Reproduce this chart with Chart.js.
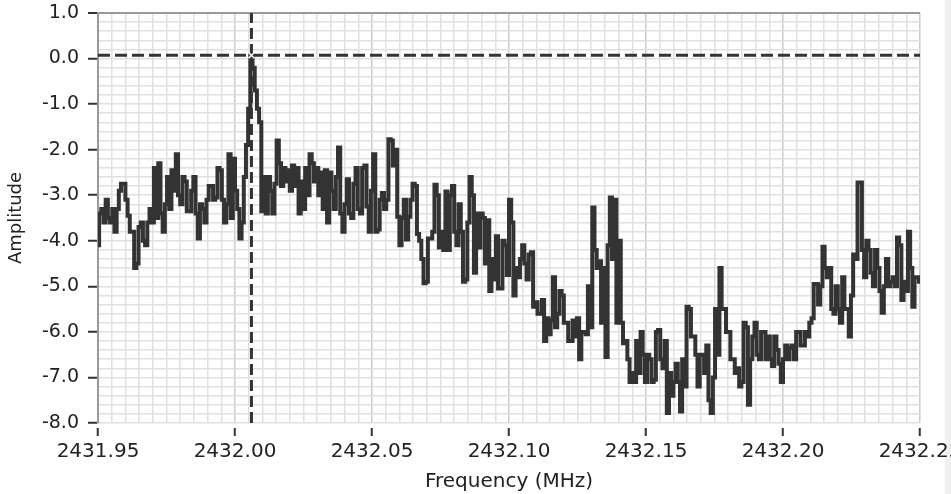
<!DOCTYPE html>
<html>
<head>
<meta charset="utf-8">
<title>Amplitude vs Frequency</title>
<script src="https://cdn.jsdelivr.net/npm/chart.js@4.4.1/dist/chart.umd.min.js"></script>
<style>
    html, body { margin: 0; padding: 0; background: #ffffff; }
    #spectrum { display: block; }
</style>
</head>
<body>
<canvas id="spectrum" width="951" height="494"></canvas>
<script>
// Frequency axis (MHz): uniform sampling grid
const freqStart = 2431.95;
const freqStep = 0.0008;
const xMin = 2431.95;
const xMax = 2432.25;
const xMajorStep = 0.05;
const xMinorStep = 0.005;

// Amplitude axis
const yMin = -8;
const yMax = 1;
const yMinorStep = 0.2;

// Cursor (crosshair) position
const cursorFreq = 2432.006;
const cursorAmp = 0.07;

// Amplitude, one value per frequency sample
const amplitude = [
    -4.1, -3.4, -3.3, -3.6, -3.1, -3.5, -3.6, -3.3, -3.8, -3.3,
    -2.9, -2.75, -2.75, -3.1, -3.45, -3.8, -3.8, -4.6, -4.5, -3.7,
    -3.6, -4.0, -4.1, -3.6, -3.3, -3.6, -2.4, -3.5, -2.3, -3.4,
    -3.8, -3.2, -2.6, -3.3, -2.45, -2.9, -2.1, -3.0, -3.2, -2.6,
    -2.7, -3.35, -3.35, -2.9, -2.6, -3.4, -3.95, -3.2, -3.3, -3.6,
    -3.1, -2.8, -2.8, -3.1, -3.05, -2.4, -2.45, -3.1, -3.6, -3.2,
    -2.1, -3.5, -2.2, -2.9, -3.3, -3.95, -3.6, -2.6, -1.9, -1.1,
    0.07, -0.2, -0.7, -1.1, -1.4, -3.35, -2.6, -3.4, -2.6, -2.9,
    -3.4, -2.75, -1.8, -2.3, -2.8, -2.4, -2.7, -2.45, -2.9, -2.35,
    -2.8, -2.4, -3.4, -2.7, -3.3, -2.4, -3.0, -2.1, -2.3, -2.7,
    -2.4, -3.0, -2.5, -3.3, -2.45, -3.6, -2.5, -2.9, -3.3, -2.6,
    -1.95, -3.4, -3.8, -3.2, -2.65, -3.4, -3.5, -2.75, -2.4, -3.3,
    -3.4, -2.4, -2.35, -3.25, -3.8, -2.9, -2.1, -3.8, -3.75, -3.1,
    -2.95, -3.3, -3.1, -1.77, -1.8, -2.35, -2.0, -3.47, -4.1, -3.5,
    -3.1, -3.97, -3.47, -3.1, -2.75, -2.8, -3.85, -4.0, -4.4, -4.93,
    -4.9, -3.95, -3.95, -3.8, -2.77, -3.0, -4.15, -3.8, -4.2, -2.92,
    -4.2, -3.0, -2.8, -3.8, -4.1, -3.2, -3.8, -4.9, -4.85, -3.6,
    -2.6, -3.0, -4.7, -3.4, -4.15, -3.4, -3.5, -4.5, -3.55, -5.1,
    -4.4, -4.85, -3.9, -5.05, -5.05, -4.0, -4.1, -4.75, -3.1, -3.6,
    -5.2, -4.6, -4.8, -4.4, -4.1, -4.5, -4.85, -4.3, -4.25, -5.45,
    -5.35, -5.6, -5.6, -5.3, -6.2, -5.7, -6.05, -5.75, -4.8, -5.9,
    -5.6, -5.1, -5.2, -5.8, -5.8, -6.2, -6.2, -5.75, -6.1, -5.7,
    -6.6, -6.0, -6.0, -6.05, -5.0, -5.9, -3.27, -4.2, -4.6, -4.45,
    -5.8, -4.6, -6.55, -4.1, -3.05, -4.4, -3.1, -5.8, -4.0, -5.8,
    -6.25, -6.2, -6.6, -7.1, -6.9, -7.1, -6.2, -6.9, -6.0, -6.5,
    -7.1, -6.5, -6.6, -7.1, -7.05, -6.0, -5.96, -6.6, -6.8, -6.2,
    -7.78, -6.9, -7.4, -7.1, -6.7, -7.1, -7.75, -6.6, -7.2, -5.45,
    -5.5, -6.1, -6.1, -6.5, -7.2, -6.5, -6.5, -6.9, -6.3, -7.5,
    -7.78, -7.0, -5.5, -6.5, -4.6, -5.5, -5.5, -6.0, -6.0, -6.6,
    -6.6, -6.9, -6.8, -7.2, -7.1, -5.8, -5.9, -7.6, -6.6, -6.1,
    -5.8, -6.5, -6.6, -6.0, -6.0, -6.6, -6.1, -6.6, -6.75, -6.1,
    -6.4, -6.7, -7.1, -6.6, -6.3, -6.6, -6.35, -6.3, -6.6, -6.0,
    -6.0, -6.3, -6.3, -6.0, -6.1, -5.8, -5.7, -4.95, -4.95, -5.4,
    -5.0, -4.13, -4.6, -4.8, -4.6, -5.5, -5.6, -5.0, -5.5, -5.8,
    -4.8, -5.5, -5.5, -6.1, -5.2, -4.3, -4.4, -2.72, -2.72, -4.2,
    -4.8, -4.0, -4.2, -4.7, -5.0, -4.2, -4.6, -5.1, -5.58, -5.0,
    -4.4, -5.0, -4.9, -4.8, -5.0, -3.93, -4.1, -5.3, -4.9, -5.1,
    -3.8, -4.6, -5.45, -4.8, -4.8, -4.9
];

const frequencies = amplitude.map((v, i) => freqStart + i * freqStep);

function onStep(value, step) {
    const r = value / step;
    return Math.abs(r - Math.round(r)) < 1e-4;
}

function tickValue(c) {
    return c && c.tick ? c.tick.value : NaN;
}

// light grey strip on the right edge of the panel
const sideStrip = {
    id: "sideStrip",
    beforeDraw(chart) {
        const c = chart.ctx;
        c.save();
        c.fillStyle = "#f1f1f1";
        c.fillRect(chart.width - 6, 0, 6, chart.height);
        c.restore();
    },
};

Chart.defaults.font.family = "'DejaVu Sans', Verdana, sans-serif";
Chart.defaults.color = "#222222";

if (document.getElementById("spectrum")) {
    const ctx = document.getElementById("spectrum");

    new Chart(ctx, {
        type: "line",
        data: {
            datasets: [
                {
                    label: "Spectrum",
                    data: frequencies.map((f, i) => ({ x: f, y: amplitude[i] })),
                    borderColor: "#333333",
                    borderWidth: 4,
                    stepped: "middle",
                    pointRadius: 0,
                    order: 2,
                },
                {
                    label: "Cursor X",
                    data: [
                        { x: cursorFreq, y: yMin },
                        { x: cursorFreq, y: yMax },
                    ],
                    borderColor: "#333333",
                    borderWidth: 3,
                    borderDash: [11, 5],
                    pointRadius: 0,
                    order: 1,
                },
                {
                    label: "Cursor Y",
                    data: [
                        { x: xMin, y: cursorAmp },
                        { x: xMax, y: cursorAmp },
                    ],
                    borderColor: "#333333",
                    borderWidth: 3,
                    borderDash: [12, 5],
                    pointRadius: 0,
                    order: 1,
                },
                {
                    label: "Cursor point",
                    data: [{ x: cursorFreq, y: cursorAmp }],
                    showLine: false,
                    pointStyle: "crossRot",
                    pointRadius: 4,
                    pointBorderColor: "#ffffff",
                    pointBorderWidth: 1.5,
                    order: 0,
                },
            ],
        },
        options: {
            responsive: false,
            animation: false,
            layout: {
                padding: { left: 0, right: 31, top: 13, bottom: 0 },
            },
            plugins: {
                legend: { display: false },
                tooltip: { enabled: false },
            },
            scales: {
                x: {
                    type: "linear",
                    min: xMin,
                    max: xMax,
                    afterFit: (scale) => {
                        scale.height = 71;
                        scale.paddingLeft = 0;
                        scale.paddingRight = 0;
                    },
                    border: { display: false },
                    grid: {
                        color: (c) => onStep(tickValue(c), xMajorStep) ? "#cccccc" : "#e0e0e0",
                        lineWidth: 1.5,
                        tickLength: 13,
                        tickWidth: 2,
                        tickColor: (c) => onStep(tickValue(c), xMajorStep) ? "#333333" : "rgba(0,0,0,0)",
                        tickBorderDash: [0, 5, 8, 100],
                    },
                    ticks: {
                        stepSize: xMinorStep,
                        autoSkip: false,
                        minRotation: 0,
                        maxRotation: 0,
                        padding: 4,
                        color: "#222222",
                        font: { size: 20 },
                        callback: (v) => onStep(v, xMajorStep) ? v.toFixed(2) : "",
                    },
                    title: {
                        display: true,
                        text: "Frequency (MHz)",
                        color: "#222222",
                        font: { size: 20 },
                        padding: { top: 0, bottom: 0 },
                    },
                },
                y: {
                    min: yMin,
                    max: yMax,
                    afterFit: (scale) => {
                        scale.width = 98;
                        scale.paddingTop = 0;
                        scale.paddingBottom = 0;
                    },
                    border: { display: true, color: "#9a9a9a", width: 2 },
                    grid: {
                        color: (c) => tickValue(c) === yMax ? "#9a9a9a" : "#e0e0e0",
                        lineWidth: (c) => tickValue(c) === yMax ? 2 : 1.5,
                        tickLength: 14,
                        tickWidth: 2,
                        tickColor: (c) => onStep(tickValue(c), 1) ? "#333333" : "rgba(0,0,0,0)",
                        tickBorderDash: [0, 4, 10, 100],
                    },
                    ticks: {
                        stepSize: yMinorStep,
                        autoSkip: false,
                        padding: 5,
                        color: "#222222",
                        font: { size: 19 },
                        callback: (v) => onStep(v, 1) ? Number(v).toFixed(1) : "",
                    },
                    title: {
                        display: true,
                        text: "Amplitude",
                        color: "#222222",
                        font: { size: 18 },
                        padding: { top: 6, bottom: 0 },
                    },
                },
            },
        },
        plugins: [sideStrip],
    });
}
</script>
</body>
</html>
